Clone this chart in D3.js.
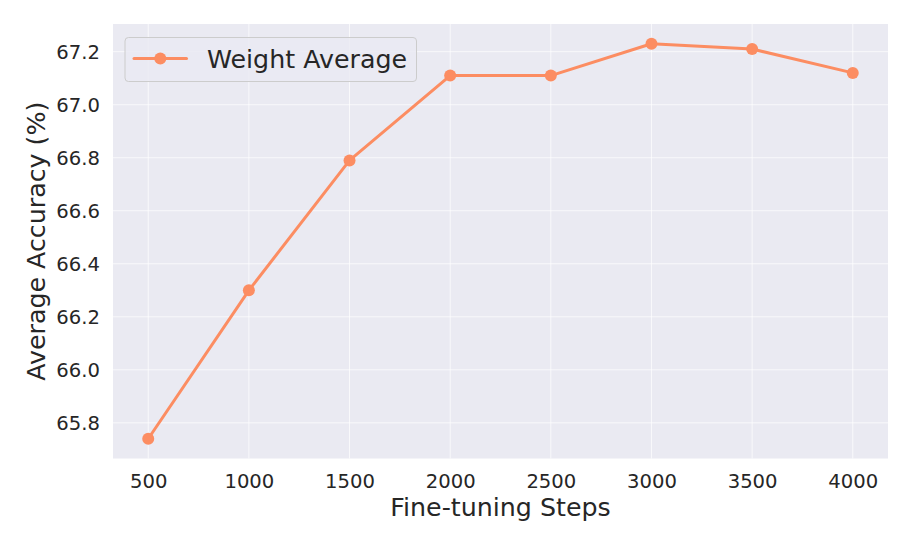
<!DOCTYPE html>
<html>
<head>
<meta charset="utf-8">
<script src="https://cdn.jsdelivr.net/npm/d3@7"></script>
<style>
  html, body { margin: 0; padding: 0; background: #fff; }
  svg { display: block; }
  text { font-family: "DejaVu Sans", sans-serif; fill: #262626; }
</style>
</head>
<body>
<svg id="chart" width="913" height="548"></svg>
<script>
const steps = [500, 1000, 1500, 2000, 2500, 3000, 3500, 4000];
const accuracy = [65.74, 66.30, 66.79, 67.11, 67.11, 67.23, 67.21, 67.12];
const xTicks = [500, 1000, 1500, 2000, 2500, 3000, 3500, 4000];
const yTicks = [65.8, 66.0, 66.2, 66.4, 66.6, 66.8, 67.0, 67.2];
const seriesName = "Weight Average";
const xLabel = "Fine-tuning Steps";
const yLabel = "Average Accuracy (%)";

const W = 913, H = 548;
const m = { left: 113, right: 888, top: 24, bottom: 458.5 };
const color = "#fc8d62";

const svg = d3.select("#chart");

const xPad = (d3.max(steps) - d3.min(steps)) * 0.05;
const yPad = (d3.max(accuracy) - d3.min(accuracy)) * 0.05;
const x = d3.scaleLinear()
  .domain([d3.min(steps) - xPad, d3.max(steps) + xPad])
  .range([m.left, m.right]);
const y = d3.scaleLinear()
  .domain([d3.min(accuracy) - yPad, d3.max(accuracy) + yPad])
  .range([m.bottom, m.top]);

// background
svg.append("rect")
  .attr("x", m.left).attr("y", m.top)
  .attr("width", m.right - m.left).attr("height", m.bottom - m.top)
  .attr("fill", "#eaeaf2");

// grid
svg.append("g").selectAll("line").data(xTicks).join("line")
  .attr("x1", d => x(d)).attr("x2", d => x(d))
  .attr("y1", m.top).attr("y2", m.bottom)
  .attr("stroke", "#fff").attr("stroke-width", 1).attr("stroke-opacity", 0.7);
svg.append("g").selectAll("line").data(yTicks).join("line")
  .attr("x1", m.left).attr("x2", m.right)
  .attr("y1", d => y(d)).attr("y2", d => y(d))
  .attr("stroke", "#fff").attr("stroke-width", 1).attr("stroke-opacity", 0.7);

// axes using d3 axis generators (no tick lines, no domain)
const xAxis = d3.axisBottom(x).tickValues(xTicks).tickSize(0).tickPadding(0).tickFormat(d3.format("d"));
const gx = svg.append("g").attr("transform", `translate(0,${m.bottom})`).call(xAxis);
gx.select(".domain").remove();
gx.selectAll("text")
  .attr("y", 29).attr("dy", null)
  .style("font-size", "19.6px").style("font-family", "DejaVu Sans").attr("fill", "#262626");

const yAxis = d3.axisLeft(y).tickValues(yTicks).tickSize(0).tickPadding(0).tickFormat(d3.format(".1f"));
const gy = svg.append("g").attr("transform", `translate(${m.left},0)`).call(yAxis);
gy.select(".domain").remove();
gy.selectAll("text")
  .attr("x", -13).attr("dy", "0.36em")
  .style("font-size", "19.6px").style("font-family", "DejaVu Sans").attr("fill", "#262626");

// axis labels
svg.append("text")
  .attr("x", (m.left + m.right) / 2).attr("y", 515.5)
  .attr("text-anchor", "middle")
  .style("font-size", "25.3px")
  .text(xLabel);
svg.append("text")
  .attr("transform", `translate(45,${(m.top + m.bottom) / 2}) rotate(-90)`)
  .attr("text-anchor", "middle")
  .style("font-size", "25.3px")
  .text(yLabel);

// line
const line = d3.line().x((d, i) => x(steps[i])).y(d => y(d));
svg.append("path")
  .datum(accuracy)
  .attr("d", line)
  .attr("fill", "none")
  .attr("stroke", color)
  .attr("stroke-width", 3)
  .attr("stroke-linejoin", "round")
  .attr("stroke-linecap", "round");
svg.append("g").selectAll("circle").data(accuracy).join("circle")
  .attr("cx", (d, i) => x(steps[i])).attr("cy", d => y(d))
  .attr("r", 6).attr("fill", color);

// legend
const lg = svg.append("g");
lg.append("rect")
  .attr("x", 125).attr("y", 37.5).attr("width", 291.5).attr("height", 44)
  .attr("rx", 3.5).attr("ry", 3.5)
  .attr("fill", "#eaeaf2").attr("fill-opacity", 0.8)
  .attr("stroke", "#cccccc").attr("stroke-width", 1);
lg.append("line")
  .attr("x1", 134).attr("x2", 186.5).attr("y1", 58.5).attr("y2", 58.5)
  .attr("stroke", color).attr("stroke-width", 3).attr("stroke-linecap", "round");
lg.append("circle").attr("cx", 160.3).attr("cy", 58.5).attr("r", 6).attr("fill", color);
lg.append("text")
  .attr("x", 207).attr("y", 67.5)
  .style("font-size", "25.3px")
  .text(seriesName);
</script>
</body>
</html>
